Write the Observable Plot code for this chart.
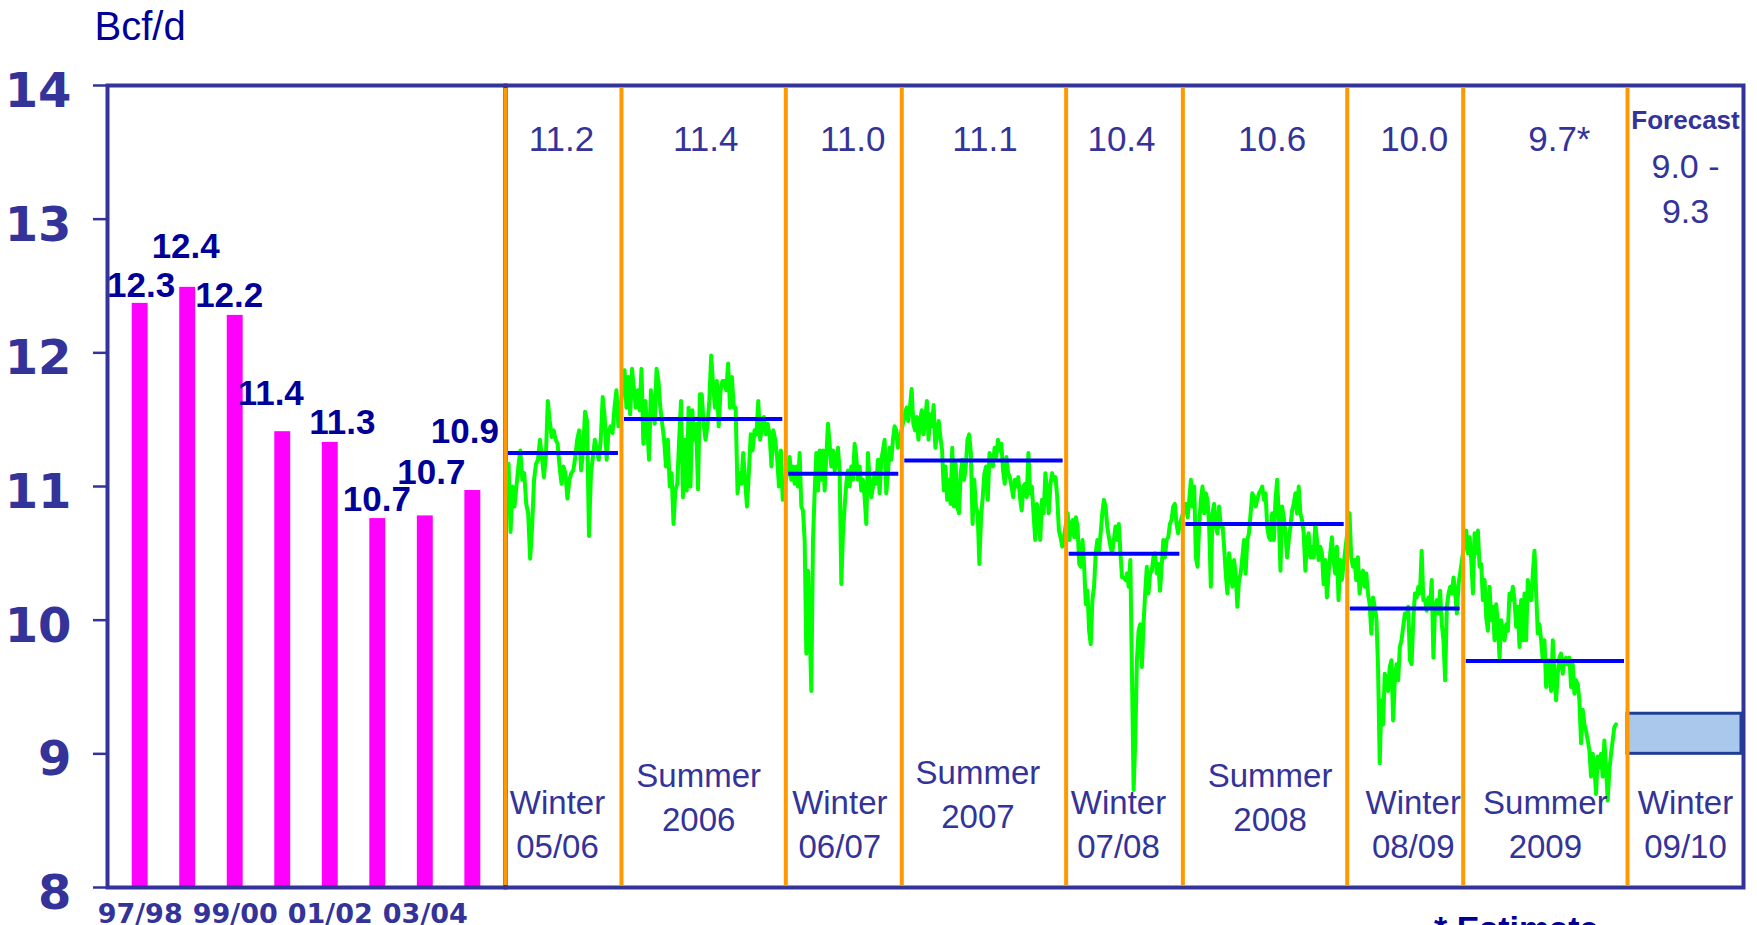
<!DOCTYPE html>
<html><head><meta charset="utf-8">
<script src="https://cdn.jsdelivr.net/npm/d3@7"></script>
<script src="https://cdn.jsdelivr.net/npm/@observablehq/plot@0.6"></script>
<style>
html,body{margin:0;padding:0;background:#fff;}
#wrap{position:relative;width:1757px;height:925px;overflow:hidden;}
#wrap svg{position:absolute;left:0;top:0;}
#caption{position:absolute;left:1434px;top:909px;font:bold 34px "Liberation Sans";color:#000099;white-space:nowrap;}
</style></head>
<body><div id="wrap"><div id="caption">* Estimate</div></div>
<script>
// ---- Data ----
const barCategories = ["97/98","98/99","99/00","00/01","01/02","02/03","03/04","04/05"];
const barValues = [12.37,12.49,12.28,11.41,11.33,10.76,10.78,10.97];
const barLabels = ["12.3","12.4","12.2","11.4","11.3","10.7","10.7","10.9"];
const barTickLabels = ["97/98","99/00","01/02","03/04"];
const yTicks = [8,9,10,11,12,13,14];

const seasonNames = ["Winter\n05/06","Summer\n2006","Winter\n06/07","Summer\n2007","Winter\n07/08","Summer\n2008","Winter\n08/09","Summer\n2009","Winter\n09/10"];
const seasonBounds = ["2005-11-01","2006-04-01","2006-11-01","2007-04-01","2007-11-01","2008-04-01","2008-11-01","2009-04-01","2009-11-01","2010-04-01"];
const seasonAverages = [11.25,11.505,11.096,11.195,10.497,10.72,10.088,9.694];
const seasonAverageLabels = ["11.2","11.4","11.0","11.1","10.4","10.6","10.0","9.7*"];
const forecastRange = [9.0, 9.3];
const forecastTitle = "Forecast";
const forecastLabel = "9.0 -\n9.3";

// daily send-out readings, first/last date of each season's trace
const dailySpans = [["2005-11-05","2006-03-28"],["2006-04-05","2006-10-28"],["2006-11-06","2007-03-27"],["2007-04-05","2007-10-27"],["2007-11-03","2008-03-28"],["2008-04-05","2008-10-25"],["2008-11-04","2009-03-26"],["2009-04-05","2009-10-17"]];
const dailyWinter0506 = [11.17,10.66,11.00,10.85,11.00,11.15,11.27,11.05,11.10,10.87,10.80,10.46,10.70,11.05,11.17,11.20,11.35,11.22,11.07,11.22,11.64,11.49,11.37,11.42,11.35,11.32,11.15,11.02,11.15,11.10,10.91,11.05,11.10,11.12,11.22,11.35,11.42,11.12,11.27,11.56,11.49,10.63,11.10,11.22,11.35,11.27,11.20,11.35,11.67,11.52,11.20,11.42,11.45,11.40,11.59,11.72,11.45];
const dailySummer2006 = [11.87,11.59,11.82,11.54,11.88,11.72,11.59,11.72,11.57,11.88,11.32,11.64,11.47,11.20,11.72,11.59,11.47,11.88,11.79,11.59,11.47,11.35,11.15,11.35,11.00,11.10,10.72,10.97,11.02,11.35,11.64,10.92,11.35,10.97,11.59,11.00,11.57,11.35,11.47,10.98,11.69,11.69,11.47,11.35,11.45,11.64,11.98,11.77,11.59,11.79,11.45,11.72,11.79,11.79,11.72,
  11.92,11.59,11.82,11.59,11.59,10.95,11.10,11.02,11.25,11.05,10.85,11.10,11.39,11.27,11.42,11.39,11.64,11.35,11.45,11.52,11.39,11.47,11.39,11.15,11.42,11.35,11.22,11.00,11.27,10.90];
const dailyWinter0607 = [11.22,11.05,11.15,11.02,11.15,11.00,11.25,10.85,10.82,10.60,9.75,10.37,9.95,9.47,10.60,10.95,11.25,10.97,11.27,11.05,11.27,10.97,11.22,11.47,11.32,11.15,11.27,11.12,11.20,11.29,11.12,10.27,10.65,10.85,11.02,11.12,11.00,11.15,11.05,11.32,11.22,11.05,11.15,10.97,11.05,10.92,10.72,11.25,11.05,10.92,11.00,11.10,11.02,11.20,10.95,11.20,11.27,11.35,10.95,11.10,11.29,11.20,11.35,11.45,11.42,11.29];
const dailySummer2007 = [11.54,11.59,11.49,11.59,11.73,11.47,11.42,11.52,11.35,11.49,11.57,11.39,11.49,11.64,11.35,11.54,11.45,11.61,11.29,11.39,11.49,11.37,
  11.27,10.97,11.15,10.90,11.05,10.87,11.29,10.85,11.17,10.85,10.80,11.10,11.20,11.05,11.15,11.35,11.39,11.25,10.72,11.05,10.85,10.80,10.42,10.77,10.92,11.10,11.15,10.90,11.25,11.20,11.15,11.29,11.22,11.35,11.27,11.32,11.12,11.02,11.22,11.10,11.07,11.00,10.92,11.05,11.00,11.07,10.92,10.82,11.00,11.02,10.92,11.25,10.95,11.00,10.80,10.60,10.87,10.77,10.60,10.90,10.80,11.10,10.97,10.80,11.02,11.10,11.05,11.07,10.92,10.67,10.62,10.55];
const dailyWinter0708 = [10.80,10.60,10.70,10.75,10.62,10.77,10.70,10.42,10.40,10.60,10.40,10.12,10.22,9.92,9.82,10.15,10.25,10.50,10.60,10.52,10.65,10.80,10.90,10.85,10.70,10.62,10.55,10.50,10.60,10.70,10.60,10.72,10.50,10.32,10.32,10.30,10.35,10.25,10.45,9.60,8.73,9.10,9.70,9.92,9.97,9.65,9.97,10.20,10.40,10.20,10.35,10.37,10.47,10.50,10.35,10.42,10.22,10.40,10.60,10.47,10.60,10.62,10.72,
  10.75,10.85,10.87,10.72,10.65,10.72];
const dailySummer2008 = [10.87,10.77,10.90,11.05,10.85,11.00,10.47,10.40,10.72,10.90,11.00,10.80,10.95,10.90,10.70,10.25,10.80,10.87,10.70,10.65,10.85,10.70,10.72,10.55,10.35,10.20,10.50,10.40,10.25,10.45,10.35,10.10,10.30,10.35,10.47,10.60,10.35,10.60,10.65,10.80,10.95,10.92,10.85,10.90,10.95,10.97,11.00,10.90,10.95,10.70,10.62,10.60,10.80,10.60,10.90,11.05,10.77,10.37,10.85,10.77,10.65,10.47,10.60,10.70,10.82,10.87,10.95,10.80,11.00,10.80,10.75,10.65,10.37,10.60,10.65,10.47,10.55,10.47,10.72,10.60,10.45,10.55,10.50,10.27,10.45,10.17,10.35,10.50,10.62,10.45,10.35,10.55,10.15,10.45,10.30];
const dailyWinter0809 = [10.80,10.47,10.40,10.45,10.30,10.47,10.20,10.35,10.37,10.25,10.35,10.20,10.12,9.90,10.17,10.10,10.02,9.65,8.93,
  9.40,9.22,9.60,9.55,9.47,9.65,9.70,9.25,9.55,9.67,9.55,9.80,9.85,9.95,10.05,10.02,10.10,9.70,9.67,10.00,10.20,10.17,10.25,10.20,10.52,10.15,10.15,10.07,10.17,10.10,10.30,9.72,10.10,10.15,10.05,10.22,9.97,9.85,9.55,10.10,10.20,10.25,10.20,10.32,10.20,10.05,10.27];
const dailySummer2009 = [10.67,10.50,10.62,10.45,10.20,10.65,10.50,10.67,10.40,10.42,10.15,10.30,10.02,9.92,10.25,10.00,10.10,9.85,10.12,9.97,9.72,10.00,9.90,9.85,9.97,9.92,10.20,10.15,10.25,10.15,9.95,10.10,9.80,10.15,9.85,10.20,9.85,10.30,10.20,10.15,10.35,10.52,10.20,9.90,9.97,9.85,9.70,9.85,9.50,9.70,9.60,9.47,9.85,9.60,9.40,9.60,9.72,9.75,9.60,9.70,9.72,9.67,9.72,9.50,9.67,9.45,9.55,9.52,9.40,9.08,9.33,9.22,9.17,9.10,9.03,8.83,9.00,8.90,8.70,8.98,8.90,9.00,8.83,9.10,8.90,8.65,8.88,9.00,9.10,9.20,9.22];

// ---- Build tables ----
const dailySeries = [dailyWinter0506,dailySummer2006,dailyWinter0607,dailySummer2007,dailyWinter0708,dailySummer2008,dailyWinter0809,dailySummer2009];
const daily = dailySeries.flatMap((vals, s) => {
  const t0 = +new Date(dailySpans[s][0]), t1 = +new Date(dailySpans[s][1]);
  return vals.map((v, i) => ({date: new Date(t0 + (t1 - t0) * i / (vals.length - 1)), value: v}));
});
const bounds = seasonBounds.map(d => new Date(d));
const seasons = seasonNames.map((name, i) => ({name, start: bounds[i], end: bounds[i + 1], mid: new Date((+bounds[i] + +bounds[i + 1]) / 2)}));
const avgRows = seasonAverages.map((v, i) => ({...seasons[i], value: v, label: seasonAverageLabels[i]}));
const bars = barCategories.map((c, i) => ({cat: c, value: barValues[i], label: barLabels[i]}));

// ---- Styling / layout (pixel nudges for hand-placed labels) ----
const NAVY = "#333399", LABEL = "#000099";
const H = 925, MT = 85, MB = 38;
const barLabelNudges = [[1,-6],[-2,-29],[-6,-8],[-12,-27],[12,-8],[-1,-8],[6,-32],[-8,-48]];
const avgLabelNudges = [-2,2,9,1,-3,7,9,14];
const seasonLabelNudges = [[-6,-30],[-5,-57],[-4,-30],[-6,-60],[-6,-30],[5,-57],[8,-30],[0,-30],[0,-30]];

const left = Plot.plot({
  width: 505, height: H, marginLeft: 107, marginRight: 0, marginTop: MT, marginBottom: MB,
  style: {background: "transparent", fontFamily: "Liberation Sans", overflow: "visible"},
  x: {type: "band", domain: barCategories, paddingInner: 0.665, paddingOuter: 0.52, round: false},
  y: {domain: [8, 14]},
  marks: [
    Plot.barY(bars, {x: "cat", y1: 8, y2: "value", fill: "#FF00FF"}),
    Plot.frame({stroke: NAVY, strokeWidth: 4}),
    Plot.axisY({ticks: yTicks, tickSize: 14, stroke: NAVY, strokeWidth: 2.5, fill: "none", label: null}),
    Plot.axisY({ticks: yTicks, tickFormat: d => String(d), tickSize: 0, tickPadding: 36, dy: 6, fontSize: 48, fontWeight: "bold", fontFamily: "DejaVu Sans", fill: NAVY, label: null}),
    Plot.axisX({ticks: barTickLabels, tickSize: 0, tickPadding: 16, fontSize: 27, fontWeight: "bold", fontFamily: "DejaVu Sans", fill: NAVY, label: null}),
    Plot.text(["Bcf/d"], {frameAnchor: "top-left", text: d => d, dx: -13, dy: -46, lineAnchor: "bottom", textAnchor: "start", fontSize: 40, fill: LABEL}),
    ...bars.map((b, i) => Plot.text([b], {x: "cat", y: "value", text: "label", dx: barLabelNudges[i][0], dy: barLabelNudges[i][1], lineAnchor: "bottom", fontSize: 35, fontWeight: "bold", fill: LABEL}))
  ]
});

const right = Plot.plot({
  width: 1757, height: H, marginLeft: 505, marginRight: 14, marginTop: MT, marginBottom: MB,
  style: {background: "transparent", fontFamily: "Liberation Sans", overflow: "visible"},
  x: {type: "utc", domain: [bounds[0], bounds[bounds.length - 1]], axis: null},
  y: {domain: [8, 14], axis: null},
  marks: [
    Plot.frame({stroke: NAVY, strokeWidth: 4}),
    Plot.lineY(daily, {x: "date", y: "value", stroke: "#00FF00", strokeWidth: 4, strokeLinejoin: "round"}),
    Plot.ruleY(avgRows, {x1: "start", x2: "end", y: "value", stroke: "#0000FF", strokeWidth: 4, insetLeft: 3, insetRight: 3}),
    Plot.rect([seasons[8]], {x1: "start", x2: "end", y1: () => forecastRange[0], y2: () => forecastRange[1], fill: "#AAC8EC", stroke: "#1F3F96", strokeWidth: 3, insetRight: 2}),
    Plot.ruleX(bounds.slice(0, 9), {x: d => d, y1: 8, y2: 14, stroke: "#FF9900", strokeWidth: 4, insetTop: -2, insetBottom: -3}),
    ...avgRows.map((r, i) => Plot.text([r], {x: "mid", text: "label", frameAnchor: "top", lineAnchor: "bottom", dx: avgLabelNudges[i], dy: 65, fontSize: 35, fill: NAVY})),
    Plot.text([seasons[8]], {x: "mid", text: () => forecastTitle, frameAnchor: "top", lineAnchor: "bottom", dy: 43, fontSize: 26, fontWeight: "bold", fill: NAVY}),
    Plot.text([seasons[8]], {x: "mid", text: () => forecastLabel, frameAnchor: "top", lineAnchor: "bottom", lineHeight: 1.32, dy: 137, fontSize: 34, fill: NAVY}),
    ...seasons.map((s, i) => Plot.text([s], {x: "mid", text: "name", frameAnchor: "bottom", lineAnchor: "bottom", lineHeight: 1.33, dx: seasonLabelNudges[i][0], dy: seasonLabelNudges[i][1], fontSize: 33, fill: NAVY}))
  ]
});

const wrap = document.getElementById("wrap");
wrap.insertBefore(right, wrap.firstChild);
wrap.insertBefore(left, wrap.firstChild);
</script>
</body></html>
